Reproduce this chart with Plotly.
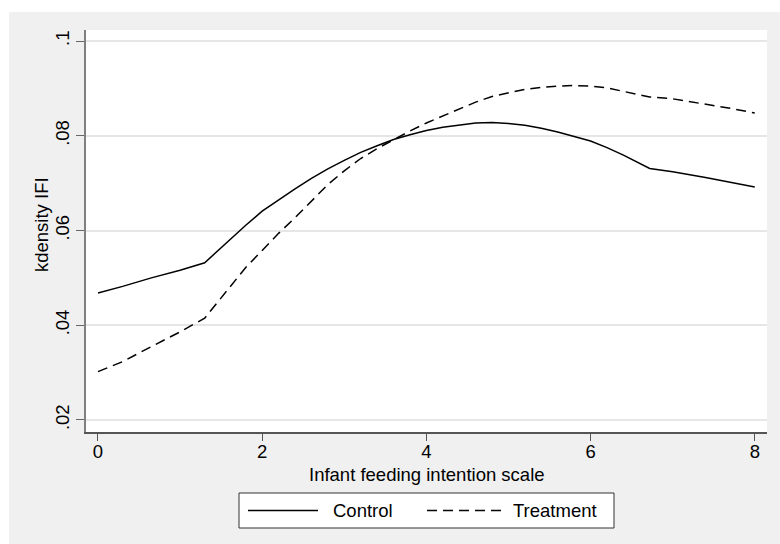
import plotly.graph_objects as go

# Kernel density estimates of the infant feeding intention (IFI) scale
ifi_scale = [0, 0.3, 0.65, 1.0, 1.3, 1.6, 1.8, 2.0, 2.2, 2.4, 2.6, 2.8, 3.0, 3.2,
             3.4, 3.6, 3.8, 4.0, 4.2, 4.4, 4.6, 4.8, 5.0, 5.2, 5.4, 5.6, 5.8,
             6.0, 6.2, 6.4, 6.72, 7.0, 7.4, 7.7, 8.0]
density_control = [0.0468, 0.0482, 0.0500, 0.0516, 0.0532, 0.0580, 0.0611, 0.0641,
                   0.0665, 0.0688, 0.0710, 0.0730, 0.0748, 0.0765, 0.0779, 0.0792,
                   0.0802, 0.0811, 0.0818, 0.0823, 0.0827, 0.0828, 0.0826, 0.0822,
                   0.0816, 0.0808, 0.0799, 0.0789, 0.0775, 0.0759, 0.0731, 0.0724,
                   0.0712, 0.0702, 0.0692]
density_treatment = [0.0302, 0.0323, 0.0355, 0.0386, 0.0415, 0.0479, 0.0522, 0.0558,
                     0.0594, 0.0627, 0.0662, 0.0697, 0.0726, 0.0752, 0.0773, 0.0792,
                     0.0810, 0.0827, 0.0842, 0.0856, 0.0871, 0.0883, 0.0891, 0.0898,
                     0.0902, 0.0905, 0.0906, 0.0905, 0.0901, 0.0894, 0.0882, 0.0878,
                     0.0867, 0.0858, 0.0848]

series_names = ["Control", "Treatment"]
x_ticks = [0, 2, 4, 6, 8]
y_ticks = [0.02, 0.04, 0.06, 0.08, 0.1]
y_tick_labels = [".02", ".04", ".06", ".08", ".1"]
x_title = "Infant feeding intention scale"
y_title = "kdensity IFI"

FONT = "Liberation Sans, Arial, Helvetica, sans-serif"
FS = 18.5
DASH = "10px,6px"
TXT = dict(family=FONT, size=FS, color="black")

fig = go.Figure()
fig.add_trace(go.Scatter(x=ifi_scale, y=density_control, mode="lines",
                         name=series_names[0], showlegend=False,
                         line=dict(color="black", width=1.5)))
fig.add_trace(go.Scatter(x=ifi_scale, y=density_treatment, mode="lines",
                         name=series_names[1], showlegend=False,
                         line=dict(color="black", width=1.5, dash=DASH)))

# plot area in pixels: x 86..767, y 30..432
L, R, T, B = 86, 767, 30, 432
W, H = R - L, B - T


def px(xp):
    return (xp - L) / W


def py(yp):
    return (B - yp) / H


shapes = [
    # white strips around the grey graph region
    dict(type="rect", xref="paper", yref="paper", x0=px(0), x1=px(780),
         y0=py(12), y1=py(0), fillcolor="white", line_width=0, layer="below"),
    dict(type="rect", xref="paper", yref="paper", x0=px(0), x1=px(9),
         y0=py(544), y1=py(0), fillcolor="white", line_width=0, layer="below"),
    # legend frame and keys
    dict(type="rect", xref="paper", yref="paper", x0=px(239), x1=px(614),
         y0=py(528), y1=py(493), fillcolor="white",
         line=dict(color="#333333", width=1)),
    dict(type="line", xref="paper", yref="paper", x0=px(248), x1=px(318),
         y0=py(510.5), y1=py(510.5), line=dict(color="black", width=1.5)),
    dict(type="line", xref="paper", yref="paper", x0=px(427), x1=px(502),
         y0=py(510.5), y1=py(510.5), line=dict(color="black", width=1.5, dash=DASH)),
]

annotations = [
    dict(xref="paper", yref="paper", x=px(331), y=py(510.5), text=series_names[0],
         showarrow=False, xanchor="left", yanchor="middle", font=TXT),
    dict(xref="paper", yref="paper", x=px(511), y=py(510.5), text=series_names[1],
         showarrow=False, xanchor="left", yanchor="middle", font=TXT),
    # axis titles
    dict(xref="paper", yref="paper", x=0.5, y=py(474), text=x_title,
         showarrow=False, xanchor="center", yanchor="middle", font=TXT),
    dict(xref="paper", yref="paper", x=px(42), y=py(225), text=y_title,
         showarrow=False, xanchor="center", yanchor="middle", textangle=-90, font=TXT),
]

fig.update_layout(
    width=780, height=544,
    margin=dict(l=L, r=780 - R, t=T, b=544 - B, pad=0),
    paper_bgcolor="#F0F0F0",
    plot_bgcolor="white",
    font=TXT,
    shapes=shapes,
    annotations=annotations,
    xaxis=dict(
        range=[-0.146, 8.149], tickvals=x_ticks, showgrid=False, zeroline=False,
        showline=True, linecolor="#555555", linewidth=1.5,
        ticks="outside", ticklen=7, tickwidth=1.2, tickcolor="#555555",
        tickfont=TXT, ticklabelstandoff=-5,
    ),
    yaxis=dict(
        range=[0.01746, 0.10233], tickvals=y_ticks, ticktext=y_tick_labels,
        tickangle=-90, showgrid=True, gridcolor="#E6E6E6", gridwidth=1.5,
        zeroline=False, showline=True, linecolor="#808080", linewidth=1.5,
        ticks="outside", ticklen=8, tickwidth=1.2, tickcolor="#666666",
        tickfont=TXT,
    ),
)

fig.write_html("out.html")
